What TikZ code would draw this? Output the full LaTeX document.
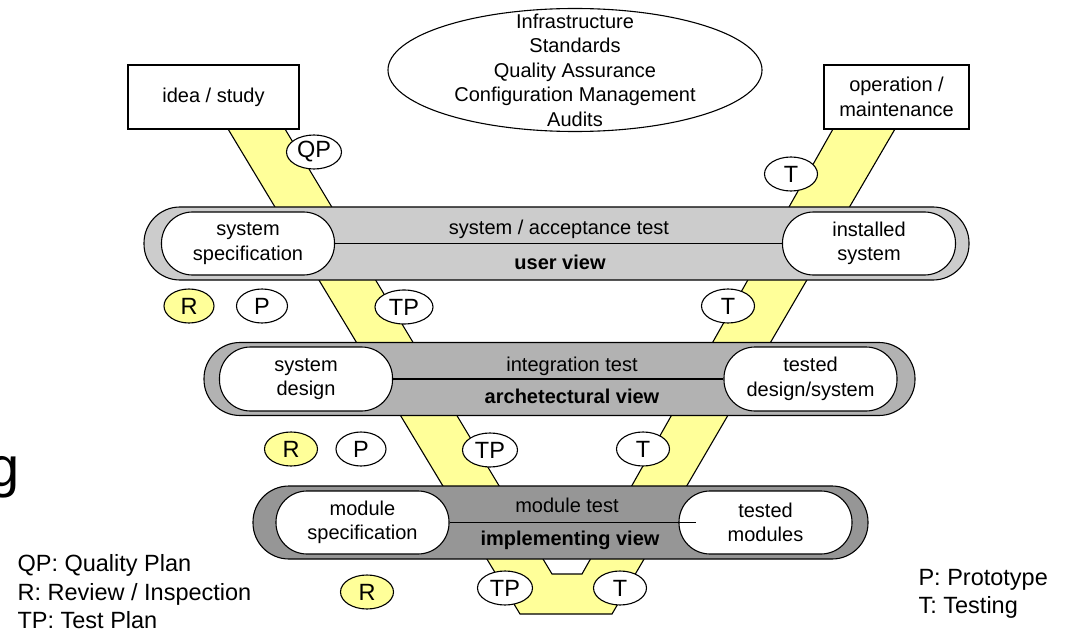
\documentclass[tikz,border=0pt]{standalone}
\usepackage{fontspec}
\setmainfont{Liberation Sans}
\usetikzlibrary{shapes.geometric}

\definecolor{vyellow}{HTML}{FFFF99}
\definecolor{grayuser}{gray}{0.80}
\definecolor{grayarch}{gray}{0.70}
\definecolor{grayimpl}{gray}{0.59}

\newcommand{\txt}{\fontsize{20}{24.5}\selectfont}
\newcommand{\tagtxt}{\fontsize{23.5}{28}\selectfont}

\begin{document}
\begin{tikzpicture}[x=1pt, y=-1pt, line width=1.1pt, font=\txt,
    box/.style={draw, fill=white, inner sep=0pt, align=center},
    band/.style={draw, rounded corners=36pt, minimum height=73pt, inner sep=0pt},
    pill/.style={draw, fill=white, rounded corners=31pt, minimum width=173pt,
      minimum height=63pt, inner sep=0pt, align=center},
    tag/.style={draw, ellipse, fill=white, minimum width=53pt, minimum height=34pt,
      inner sep=0pt, font=\tagtxt},
    legend/.style={anchor=base west, inner sep=0pt, font=\tagtxt}]
  \useasboundingbox (0,0) rectangle (1068,631);
  % the yellow V behind the views
  \filldraw[fill=vyellow] (228,129) -- (520,614) -- (612,614) -- (895,129)
    -- (833,129) -- (582,574) -- (552,574) -- (285,129) -- cycle;
  % top row
  \node[box, minimum width=171pt, minimum height=64pt] (idea) at (213.5,97) {idea / study};
  \node[box, minimum width=145pt, minimum height=64pt] (oper) at (896.5,97) {operation /\\maintenance};
  \node[draw, fill=white, ellipse, minimum width=374pt, minimum height=123pt] (infra) at (575,70) {};
  \node[align=center] (infratxt) at (infra) {Infrastructure\\Standards\\Quality Assurance\\Configuration Management\\Audits};
  % user view
  \node[band, fill=grayuser, minimum width=825pt] (user) at (556.5,243.5) {};
  \node[pill] (sysspec) at (248,243.5) {system\\specification};
  \node[pill] (instsys) at (869,243.5) {installed\\system};
  \draw (sysspec) -- (instsys);
  \node (usertest) at (559,229) {system / acceptance test};
  \node[font=\txt\bfseries] (userlbl) at (560,262) {user view};
  % archetectural view
  \node[band, fill=grayarch, minimum width=711pt] (arch) at (559.5,379) {};
  \node[pill, minimum height=64pt] (sysdes) at (306,379) {system\\design};
  \node[pill, minimum height=64pt] (testdes) at (810.5,379) {tested\\design/system};
  \draw (sysdes) -- (testdes);
  \node (archtest) at (572,366) {integration test};
  \node[font=\txt\bfseries] (archlbl) at (572,396) {archetectural view};
  % implementing view
  \node[band, fill=grayimpl, minimum width=615pt] (impl) at (560.5,522.5) {};
  \node[pill] (modspec) at (362.5,522.5) {module\\specification};
  \node[pill] (testmod) at (765.5,522.5) {tested\\modules};
  \draw (modspec) -- ([xshift=18pt]testmod.west);
  \node (impltest) at (567,505) {module test};
  \node[font=\txt\bfseries] (impllbl) at (570,540) {implementing view};
  % reviews, prototypes, test plans, tests
  \node[tag, minimum width=55pt] (qp) at (314,152) {QP};
  \node[tag] (t0) at (791,174) {T};
  \node[tag, fill=vyellow, minimum width=50pt] (r1) at (189,306) {R};
  \node[tag, minimum width=51pt] (p1) at (262,306) {P};
  \node[tag, minimum width=58pt] (tp1) at (404,307) {TP};
  \node[tag] (t1) at (728,306) {T};
  \node[tag, fill=vyellow] (r2) at (291,449) {R};
  \node[tag, minimum width=50pt] (p2) at (361,449) {P};
  \node[tag, minimum width=55pt] (tp2) at (490,450) {TP};
  \node[tag] (t2) at (643,449) {T};
  \node[tag, fill=vyellow] (r3) at (367,592) {R};
  \node[tag, minimum width=55pt] (tp3) at (505,588) {TP};
  \node[tag] (t3) at (620,588) {T};
  % legend
  \node[legend] (legqp) at (17,571) {QP: Quality Plan};
  \node[legend] (legr) at (17,600) {R: Review / Inspection};
  \node[legend] (legtp) at (17,628) {TP: Test Plan};
  \node[legend] (legp) at (918,585) {P: Prototype};
  \node[legend] (legt) at (918,613) {T: Testing};
  % cut off letter at the left margin
  \node[anchor=base west, inner sep=0pt, font=\fontsize{56}{60}\selectfont] (bigg) at (-12,486) {g};
\end{tikzpicture}
\end{document}
